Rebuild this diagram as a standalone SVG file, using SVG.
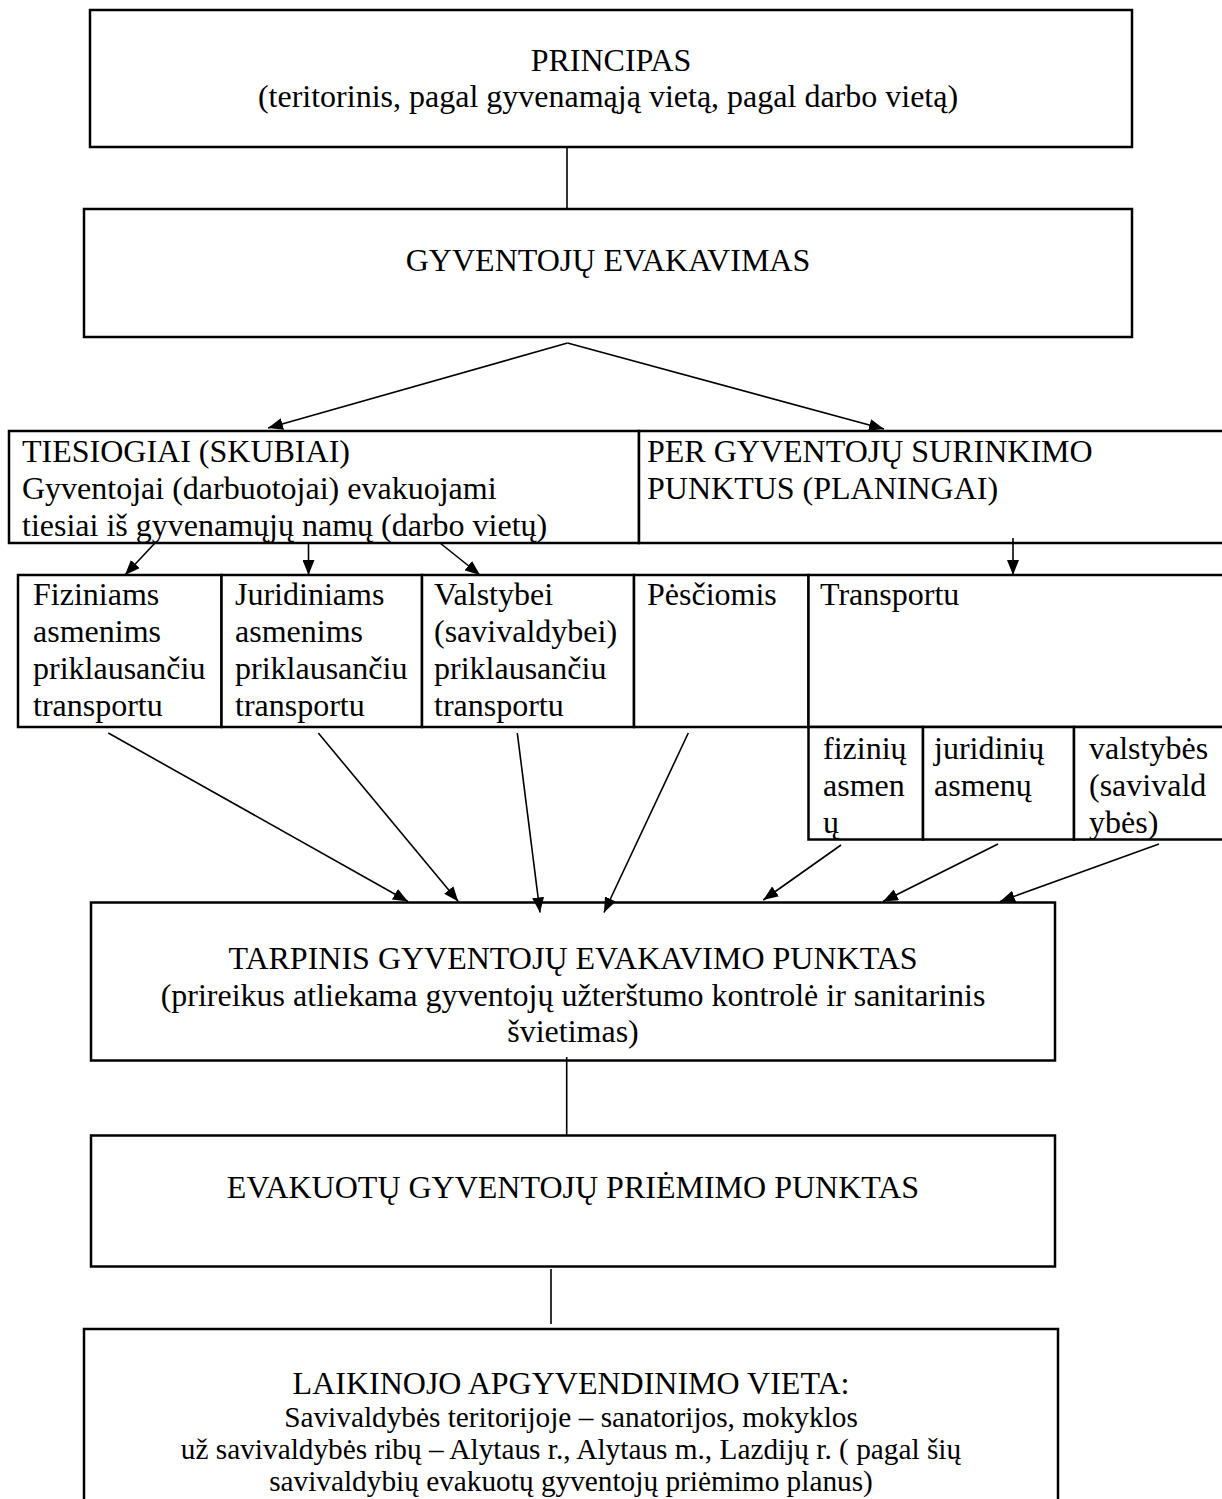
<svg xmlns="http://www.w3.org/2000/svg" width="1222" height="1499" viewBox="0 0 1222 1499">
<style>
.box{fill:#fff;stroke:#000;stroke-width:2.5}
.t{font-family:"Liberation Serif","Times New Roman",serif;font-size:32px;fill:#000}
.s{font-size:29.3px}
.m{text-anchor:middle}
.c{stroke:#000;stroke-width:1.6;fill:none}
.a{marker-end:url(#ah)}
</style>
<defs>
<marker id="ah" markerUnits="userSpaceOnUse" markerWidth="16" markerHeight="12" refX="15" refY="6" orient="auto">
<path d="M0,0 L15,6 L0,12 z" fill="#000"/>
</marker>
</defs>
<rect width="1222" height="1499" fill="#fff"/>

<g id="principas">
<rect class="box" x="90" y="10" width="1042" height="137"/>
<text class="t m" x="611" y="71">PRINCIPAS</text>
<text class="t m" x="608" y="107">(teritorinis, pagal gyvenamąją vietą, pagal darbo vietą)</text>
</g>

<g id="evakavimas">
<rect class="box" x="84" y="209" width="1048" height="128"/>
<text class="t m" x="608" y="271">GYVENTOJŲ EVAKAVIMAS</text>
</g>

<g id="tiesiogiai">
<rect class="box" x="9" y="431" width="630" height="112"/>
<text class="t" x="22" y="462">TIESIOGIAI (SKUBIAI)</text>
<text class="t" x="22" y="499">Gyventojai (darbuotojai) evakuojami</text>
<text class="t" x="22" y="536">tiesiai iš gyvenamųjų namų (darbo vietų)</text>
</g>

<g id="per">
<rect class="box" x="639" y="431" width="590" height="112"/>
<text class="t" x="647" y="462">PER GYVENTOJŲ SURINKIMO</text>
<text class="t" x="647" y="499">PUNKTUS (PLANINGAI)</text>
</g>

<g id="fiziniams">
<rect class="box" x="18" y="575" width="203.5" height="152"/>
<text class="t" x="33" y="605">Fiziniams</text>
<text class="t" x="33" y="642">asmenims</text>
<text class="t" x="33" y="679">priklausančiu</text>
<text class="t" x="33" y="716">transportu</text>
</g>

<g id="juridiniams">
<rect class="box" x="221.5" y="575" width="200.5" height="152"/>
<text class="t" x="235" y="605">Juridiniams</text>
<text class="t" x="235" y="642">asmenims</text>
<text class="t" x="235" y="679">priklausančiu</text>
<text class="t" x="235" y="716">transportu</text>
</g>

<g id="valstybei">
<rect class="box" x="422" y="575" width="212" height="152"/>
<text class="t" x="434" y="605">Valstybei</text>
<text class="t" x="434" y="642">(savivaldybei)</text>
<text class="t" x="434" y="679">priklausančiu</text>
<text class="t" x="434" y="716">transportu</text>
</g>

<g id="pesciomis">
<rect class="box" x="634" y="575" width="174.5" height="152"/>
<text class="t" x="647" y="605">Pėsčiomis</text>
</g>

<g id="transportu">
<rect class="box" x="808.5" y="575" width="420" height="152"/>
<text class="t" x="820" y="605">Transportu</text>
</g>

<g id="fiziniu">
<rect class="box" x="808.5" y="727" width="114.5" height="112.5"/>
<text class="t" x="823" y="759">fizinių</text>
<text class="t" x="823" y="796">asmen</text>
<text class="t" x="823" y="833">ų</text>
</g>

<g id="juridiniu">
<rect class="box" x="923" y="727" width="151" height="112.5"/>
<text class="t" x="934" y="759">juridinių</text>
<text class="t" x="934" y="796">asmenų</text>
</g>

<g id="valstybes">
<rect class="box" x="1074" y="727" width="154" height="112.5"/>
<text class="t" x="1089" y="759">valstybės</text>
<text class="t" x="1089" y="796">(savivald</text>
<text class="t" x="1089" y="833">ybės)</text>
</g>

<g id="tarpinis">
<rect class="box" x="91" y="902.5" width="964" height="158"/>
<text class="t m" x="573" y="969">TARPINIS GYVENTOJŲ EVAKAVIMO PUNKTAS</text>
<text class="t m" x="573" y="1006">(prireikus atliekama gyventojų užterštumo kontrolė ir sanitarinis</text>
<text class="t m" x="573" y="1042">švietimas)</text>
</g>

<g id="priemimo">
<rect class="box" x="91" y="1135.5" width="964" height="131"/>
<text class="t m" x="573" y="1198">EVAKUOTŲ GYVENTOJŲ PRIĖMIMO PUNKTAS</text>
</g>

<g id="laikinojo">
<rect class="box" x="84" y="1329" width="974" height="190"/>
<text class="t m" x="571" y="1394">LAIKINOJO APGYVENDINIMO VIETA:</text>
<text class="t s m" x="571" y="1427">Savivaldybės teritorijoje – sanatorijos, mokyklos</text>
<text class="t s m" x="571" y="1459">už savivaldybės ribų – Alytaus r., Alytaus m., Lazdijų r. ( pagal šių</text>
<text class="t s m" x="571" y="1491">savivaldybių evakuotų gyventojų priėmimo planus)</text>
</g>

<g id="connectors">
<line class="c" x1="567" y1="147" x2="567" y2="209"/>
<line class="c a" x1="567.5" y1="343" x2="268" y2="428"/>
<line class="c a" x1="567.5" y1="343" x2="884" y2="429"/>
<line class="c a" x1="155" y1="543" x2="125" y2="575"/>
<line class="c a" x1="308.5" y1="543" x2="308.5" y2="575"/>
<line class="c a" x1="440" y1="543" x2="480" y2="575"/>
<line class="c a" x1="1013" y1="538" x2="1013" y2="575"/>
<line class="c a" x1="108.3" y1="733" x2="408" y2="901.5"/>
<line class="c a" x1="318.3" y1="733" x2="458.3" y2="901.5"/>
<line class="c a" x1="517.3" y1="733" x2="540" y2="912.5"/>
<line class="c a" x1="688.3" y1="733" x2="604" y2="912.5"/>
<line class="c a" x1="841" y1="845" x2="763.3" y2="900"/>
<line class="c a" x1="998" y1="844" x2="883" y2="901.5"/>
<line class="c a" x1="1159" y1="844" x2="1000" y2="901.5"/>
<line class="c" x1="566.7" y1="1057" x2="566.7" y2="1135.5"/>
<line class="c" x1="551" y1="1269" x2="551" y2="1324"/>
</g>
</svg>
